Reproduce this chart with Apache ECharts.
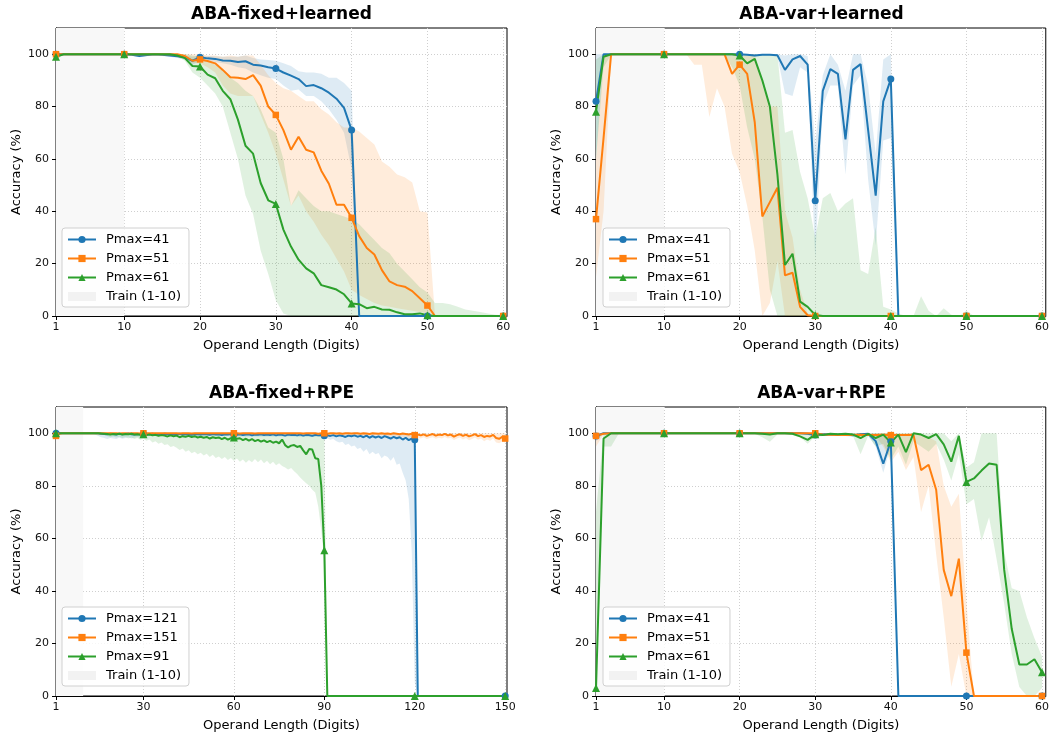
<!DOCTYPE html>
<html>
<head>
<meta charset="utf-8">
<script src="https://cdn.jsdelivr.net/npm/echarts@6/dist/echarts.min.js"></script>
<style>
  html, body { margin: 0; padding: 0; background: #fff; }
  #main { width: 1052px; height: 737px; }
</style>
</head>
<body>
<div id="main"></div>
<script>
// operand lengths (x)
var lens60 = [];
for (var i = 1; i <= 60; i++) lens60.push(i);
var lens150 = [];
for (var j = 1; j <= 150; j++) lens150.push(j);

var ticks60 = [1, 10, 20, 30, 40, 50, 60];
var ticks150 = [1, 30, 60, 90, 120, 150];
var yTicks = [0, 20, 40, 60, 80, 100];

// ---- ABA-fixed+learned ----
var aBlue = [
  100,100,100,100,100,100,100,100,100,100,
  99.8,99.3,99.7,100,99.8,99.5,99.2,98.8,97.5,98.8,
  98.4,98.2,97.6,97.5,97.0,97.3,96.0,95.7,95.0,94.5,
  93.0,91.8,90.5,87.8,88.2,87.0,85.3,83.0,79.5,71.0,
  0,0,0,0,0,0,0,0,0,0,
  0,0,0,0,0,0,0,0,0,0];
var aBlueLo = [
  99.5,99.5,99.5,99.5,99.5,99.5,99.5,99.5,99.5,99.5,
  99.5,98.8,99.2,99.5,99.3,99.0,98.5,98.0,96.0,97.5,
  97.5,97.0,96.5,96.0,95.0,94.5,93.0,92.0,91.0,90.5,
  88.0,86.0,86.5,84.0,84.0,82.0,79.0,75.0,70.0,56.0,
  0,0,0,0,0,0,0,0,0,0,
  0,0,0,0,0,0,0,0,0,0];
var aBlueHi = [
  100,100,100,100,100,100,100,100,100,100,
  100,99.8,100,100,100,100,99.8,99.5,99.0,99.5,
  99.3,99.2,99.0,99.0,99.0,99.5,98.5,98.0,97.8,97.5,
  96.5,95.5,93.5,93.0,93.0,92.5,91.0,91.0,89.0,86.0,
  0,0,0,0,0,0,0,0,0,0,
  0,0,0,0,0,0,0,0,0,0];
var aOrange = [
  100,100,100,100,100,100,100,100,100,100,
  100,100,100,100,100,100,100,99.3,97.5,98.0,
  97.4,96.5,94.0,91.2,91.0,90.5,92.0,88.0,80.0,76.8,
  71.0,63.5,68.5,63.5,62.5,55.5,50.5,42.5,42.5,37.5,
  30.5,26.0,23.5,17.5,13.2,11.8,11.2,9.5,6.8,4.0,
  0,0,0,0,0,0,0,0,0,0];
var aOrangeLo = [
  99.5,99.5,99.5,99.5,99.5,99.5,99.5,99.5,99.5,99.5,
  99.5,99.5,99.5,99.5,99.5,99.5,99.3,98.5,96.5,96.5,
  95.0,93.0,88.0,85.0,84.0,84.0,84.0,77.0,70.0,62.0,
  52.0,42.0,46.0,40.0,36.0,31.0,27.0,22.0,17.0,10.0,
  8.0,6.5,5.0,4.0,3.5,3.0,2.5,2.0,1.5,1.0,
  0,0,0,0,0,0,0,0,0,0];
var aOrangeHi = [
  100,100,100,100,100,100,100,100,100,100,
  100,100,100,100,100,100,100,100,100,100,
  99.5,99.5,99.0,99.5,99.0,99.5,99.5,96.0,92.0,89.0,
  87.0,86.0,84.0,82.0,82.0,79.0,77.0,74.0,72.0,72.0,
  70.5,68.0,65.5,59.0,57.0,54.0,53.0,51.0,40.0,39.5,
  0,0,0,0,0,0,0,0,0,0];
var aGreen = [
  99,100,100,100,100,100,100,100,100,100,
  100,100,100,100,100,100,99.5,98.5,95.5,95.3,
  92.2,90.8,86.0,82.8,75.0,65.0,62.0,50.8,44.2,42.8,
  33.0,26.5,21.5,18.2,16.3,11.8,11.0,10.1,8.3,4.8,
  4.5,3.0,3.5,2.5,2.4,1.4,0.7,0.7,1.0,0.3,
  0,0,0,0,0,0,0,0,0,0];
var aGreenLo = [
  98.0,99.8,99.8,99.8,99.8,99.8,99.8,99.8,99.8,99.8,
  99.8,99.8,99.8,99.8,99.8,99.8,99.0,97.5,93.0,91.0,
  88.0,85.0,80.0,70.0,60.0,46.0,39.0,25.0,16.0,6.0,
  1.0,0,0,0,0,0,0,0,0,0,
  0,0,0,0,0,0,0,0,0,0,
  0,0,0,0,0,0,0,0,0,0];
var aGreenHi = [
  100,100,100,100,100,100,100,100,100,100,
  100,100,100,100,100,100,100,100,99.5,99.0,
  97.5,96.0,94.0,91.0,89.0,86.0,84.0,79.0,72.0,70.0,
  60.0,42.0,48.0,45.0,42.0,40.0,40.0,39.0,38.0,37.0,
  35.0,32.0,29.0,26.0,24.0,20.0,17.0,14.0,11.0,9.0,
  5.0,5.0,4.5,3.5,2.5,2.0,1.5,1.0,0.5,0.3];

// ---- ABA-var+learned ----
var bBlue = [
  82,100,100,100,100,100,100,100,100,100,
  100,100,100,100,100,100,100,100,100,100,
  99.8,99.5,99.8,99.8,99.6,94.0,98.0,99.3,96.0,44.0,
  86.0,94.3,92.5,67.5,94.0,96.2,71.0,46.0,82.0,90.5,
  0,0,0,0,0,0,0,0,0,0,
  0,0,0,0,0,0,0,0,0,0];
var bBlueLo = [
  60,99.5,99.8,99.8,99.8,99.8,99.8,99.8,99.8,99.8,
  99.8,99.8,99.8,99.8,99.8,99.8,99.8,99.8,99.8,99.8,
  99.5,99.0,99.5,99.5,99.0,85.0,84.0,95.0,93.0,22.0,
  80.0,88.0,88.0,54.0,88.0,92.0,52.0,27.0,67.0,68.0,
  0,0,0,0,0,0,0,0,0,0,
  0,0,0,0,0,0,0,0,0,0];
var bBlueHi = [
  100,100,100,100,100,100,100,100,100,100,
  100,100,100,100,100,100,100,100,100,100,
  100,100,100,100,100,99.5,100,100,99.3,66.0,
  92.0,100,96.0,86.0,100,100,88.0,62.0,98.0,100,
  0,0,0,0,0,0,0,0,0,0,
  0,0,0,0,0,0,0,0,0,0];
var bOrange = [
  37,68,100,100,100,100,100,100,100,100,
  100,100,100,100,100,100,100,100,92.5,96.0,
  92.5,74.0,38.0,43.5,49.0,15.5,16.5,3.5,0.3,0,
  0,0,0,0,0,0,0,0,0,0,
  0,0,0,0,0,0,0,0,0,0,
  0,0,0,0,0,0,0,0,0,0];
var bOrangeLo = [
  15,40,99.5,99.8,99.8,99.8,99.8,99.8,99.8,99.8,
  99.8,99.8,99.8,96.0,96.0,76.0,87.0,80.0,62.0,55.0,
  42.0,25.0,0,5.0,21.0,0,0,0,0,0,
  0,0,0,0,0,0,0,0,0,0,
  0,0,0,0,0,0,0,0,0,0,
  0,0,0,0,0,0,0,0,0,0];
var bOrangeHi = [
  60,100,100,100,100,100,100,100,100,100,
  100,100,100,100,100,100,100,100,100,100,
  100,100,88.0,80.0,80.0,40.0,30.0,10.0,1.0,0,
  0,0,0,0,0,0,0,0,0,0,
  0,0,0,0,0,0,0,0,0,0,
  0,0,0,0,0,0,0,0,0,0];
var bGreen = [
  78,99,100,100,100,100,100,100,100,100,
  100,100,100,100,100,100,100,100,100,99.5,
  96.5,98.2,90.0,80.0,54.0,19.5,23.8,5.5,3.5,0.4,
  0,0,0,0,0,0,0,0,0,0,
  0,0,0,0,0,0,0,0,0,0,
  0,0,0,0,0,0,0,0,0,0];
var bGreenLo = [
  60,95,99.8,99.8,99.8,99.8,99.8,99.8,99.8,99.8,
  99.8,99.8,99.8,99.8,99.8,99.8,99.8,99.8,95.0,88.0,
  72.0,60.0,38.0,10.0,0,0,0,0,0,0,
  0,0,0,0,0,0,0,0,0,0,
  0,0,0,0,0,0,0,0,0,0,
  0,0,0,0,0,0,0,0,0,0];
var bGreenHi = [
  98,100,100,100,100,100,100,100,100,100,
  100,100,100,100,100,100,100,100,100,100,
  100,100,100,100,100,70.0,71.0,55.0,45.0,30.0,
  45.0,47.0,40.0,43.0,45.0,17.5,16.0,34.0,3.5,2.5,
  1.0,0,0,7.5,2.0,0,3.0,0.5,0,2.0,
  0,0,0,0,0,0,0,0,0,0];

// ---- ABA-fixed+RPE ----
var cBlue = [
  100,100,100,100,100,100,100,100,100,100,
  100,100,100,100,100,99.8,99.7,99.6,99.8,99.7,
  99.5,99.8,99.6,99.7,99.9,99.6,99.5,99.7,99.6,99.8,
  99.7,99.6,99.8,99.5,99.7,99.6,99.8,99.7,99.5,99.7,
  99.6,99.8,99.5,99.7,99.6,99.4,99.7,99.6,99.5,99.7,
  99.6,99.4,99.7,99.5,99.6,99.3,99.6,99.5,99.7,99.5,
  99.4,99.6,99.3,99.5,99.6,99.2,99.5,99.4,99.6,99.3,
  99.5,99.3,99.6,99.2,99.5,99.4,99.1,99.5,99.3,99.4,
  99.2,99.5,99.1,99.4,99.3,99.0,99.4,99.2,99.3,99.1,
  99.2,99.0,99.3,98.8,99.2,99.0,98.6,99.1,98.9,99.2,
  98.7,99.0,98.5,99.1,98.3,98.9,98.4,98.8,98.2,98.9,
  98.5,98.0,98.6,98.1,98.5,97.6,98.3,97.4,98.0,97.5,
  0,0,0,0,0,0,0,0,0,0,
  0,0,0,0,0,0,0,0,0,0,
  0,0,0,0,0,0,0,0,0,0];
var cBlueLo = [
  99.8,99.8,99.8,99.8,99.8,99.8,99.8,99.8,99.8,99.8,
  99.8,99.8,99.8,99.5,99.0,98.5,98.2,97.8,98.2,98.0,
  97.8,98.3,97.9,98.2,98.5,98.0,98.3,98.6,98.4,98.8,
  99.0,99.0,99.0,99.0,99.0,99.0,99.0,99.0,99.0,99.0,
  99.0,99.0,99.0,99.0,99.0,99.0,99.0,99.0,99.0,99.0,
  99.0,99.0,99.0,99.0,99.0,99.0,99.0,99.0,99.0,99.0,
  98.8,98.8,98.8,98.8,98.8,98.8,98.8,98.8,98.8,98.8,
  98.8,98.8,98.8,98.8,98.8,98.8,98.8,98.8,98.8,98.8,
  98.6,98.6,98.6,98.6,98.6,98.6,98.6,98.6,98.6,98.6,
  98.0,97.5,97.8,97.0,96.5,96.8,95.5,96.0,95.0,95.3,
  94.0,94.5,93.0,94.0,92.0,93.0,92.0,92.5,90.5,91.5,
  91.0,89.5,91.0,88.0,88.5,85.0,82.0,75.0,55.0,5.0,
  0,0,0,0,0,0,0,0,0,0,
  0,0,0,0,0,0,0,0,0,0,
  0,0,0,0,0,0,0,0,0,0];
var cBlueHi = [
  100,100,100,100,100,100,100,100,100,100,
  100,100,100,100,100,100,100,100,100,100,
  100,100,100,100,100,100,100,100,100,100,
  100,100,100,100,100,100,100,100,100,100,
  100,100,100,100,100,100,100,100,100,100,
  100,100,100,100,100,100,100,100,100,100,
  100,100,100,100,100,100,100,100,100,100,
  100,100,100,100,100,100,100,100,100,100,
  100,100,100,100,100,100,100,100,100,100,
  100,100,100,100,100,100,100,100,100,100,
  100,100,100,100,100,100,100,100,100,100,
  100,100,100,100,100,100,100,100,100,100,
  0,0,0,0,0,0,0,0,0,0,
  0,0,0,0,0,0,0,0,0,0,
  0,0,0,0,0,0,0,0,0,0];
var cOrange = [
  99.0,99.8,100,100,100,100,100,100,100,100,
  100,100,100,100,100,100,100,100,100,100,
  100,99.9,100,100,99.9,100,100,100,99.9,100,
  100,100,100,100,100,100,100,100,100,100,
  100,99.9,100,100,100,99.9,100,100,100,100,
  100,100,100,100,100,100,100,100,100,100,
  100,99.9,100,100,100,100,99.9,100,100,100,
  100,100,100,100,100,100,100,100,100,100,
  100,100,99.9,100,100,100,100,99.8,100,100,
  99.8,100,100,99.9,100,99.8,100,100,99.9,100,
  100,99.8,100,99.9,99.7,100,99.9,99.8,100,99.8,
  99.9,99.7,100,99.8,99.6,99.9,99.7,99.5,99.8,99.3,
  99.5,99.2,99.6,99.0,99.4,99.7,99.1,99.5,99.3,99.8,
  99.2,99.5,98.7,99.3,99.6,99.0,99.5,98.8,99.2,99.7,
  98.9,99.3,98.6,99.0,98.8,99.4,98.2,97.9,98.6,98.0];
var cOrangeLo = [
  97.5,99.3,99.5,99.5,99.5,99.5,99.5,99.5,99.5,99.5,
  99.5,99.5,99.5,99.5,99.5,99.5,99.5,99.5,99.5,99.5,
  99.5,99.5,99.5,99.5,99.5,99.5,99.5,99.5,99.5,99.5,
  99.5,99.5,99.5,99.5,99.5,99.5,99.5,99.5,99.5,99.5,
  99.5,99.5,99.5,99.5,99.5,99.5,99.5,99.5,99.5,99.5,
  99.5,99.5,99.5,99.5,99.5,99.5,99.5,99.5,99.5,99.5,
  99.5,99.5,99.5,99.5,99.5,99.5,99.5,99.5,99.5,99.5,
  99.5,99.5,99.5,99.5,99.5,99.5,99.5,99.5,99.5,99.5,
  99.5,99.5,99.5,99.5,99.5,99.5,99.5,99.5,99.5,99.5,
  99.2,99.2,99.2,99.2,99.2,99.2,99.2,99.2,99.2,99.2,
  99.2,99.2,99.2,99.2,99.2,99.2,99.2,99.2,99.2,99.2,
  99.0,98.8,99.0,98.8,98.6,98.8,98.6,98.4,98.6,98.2,
  98.4,98.0,98.5,97.8,98.2,98.5,97.9,98.3,98.0,98.6,
  98.0,98.3,97.4,98.0,98.4,97.6,98.2,97.3,97.8,98.4,
  97.5,98.0,97.0,97.6,97.2,98.0,96.5,96.2,97.0,96.4];
var cOrangeHi = [
  100,100,100,100,100,100,100,100,100,100,
  100,100,100,100,100,100,100,100,100,100,
  100,100,100,100,100,100,100,100,100,100,
  100,100,100,100,100,100,100,100,100,100,
  100,100,100,100,100,100,100,100,100,100,
  100,100,100,100,100,100,100,100,100,100,
  100,100,100,100,100,100,100,100,100,100,
  100,100,100,100,100,100,100,100,100,100,
  100,100,100,100,100,100,100,100,100,100,
  100,100,100,100,100,100,100,100,100,100,
  100,100,100,100,100,100,100,100,100,100,
  100,100,100,100,100,100,100,100,100,100,
  100,100,100,100,100,100,100,100,100,100,
  100,100,100,100,100,100,100,100,100,100,
  100,100,100,100,100,100,100,100,100,100];
var cGreen = [
  100,100,100,100,100,100,100,100,100,100,
  100,100,100,100,100,99.9,99.8,99.7,99.5,99.7,
  99.6,99.8,99.5,99.7,99.6,99.8,99.5,99.6,99.4,99.6,
  99.3,99.5,99.2,99.4,99.0,99.3,99.1,98.8,99.2,98.9,
  99.1,98.5,98.9,98.7,99.0,98.6,98.9,98.4,98.7,98.3,
  98.6,98.0,98.5,98.2,98.4,97.8,98.3,97.6,98.1,98.4,
  97.9,98.1,97.4,97.9,97.2,97.8,97.0,97.5,96.8,97.3,
  96.6,97.1,96.4,96.8,96.2,97.6,95.5,94.6,95.3,95.5,
  94.8,95.2,93.5,92.0,94.0,93.8,90.5,90.2,80.0,55.5,
  0,0,0,0,0,0,0,0,0,0,
  0,0,0,0,0,0,0,0,0,0,
  0,0,0,0,0,0,0,0,0,0,
  0,0,0,0,0,0,0,0,0,0,
  0,0,0,0,0,0,0,0,0,0,
  0,0,0,0,0,0,0,0,0,0];
var cGreenLo = [
  99.7,99.7,99.7,99.7,99.7,99.7,99.7,99.7,99.7,99.7,
  99.7,99.7,99.7,99.7,99.7,99.5,99.2,99.0,98.5,98.8,
  98.4,98.7,98.2,98.6,98.0,98.4,97.8,98.2,97.5,98.0,
  97.2,97.6,96.5,97.0,96.0,96.5,95.5,95.8,94.8,95.2,
  94.5,93.6,94.2,93.0,93.5,92.4,93.0,92.0,92.6,91.5,
  92.2,91.0,91.8,90.6,91.2,90.2,91.0,89.8,90.6,89.5,
  90.4,89.2,90.0,88.8,89.8,89.0,90.2,89.0,90.0,88.6,
  89.5,88.2,89.2,87.8,88.6,87.5,87.0,86.2,86.8,85.5,
  84.5,83.2,82.0,81.0,80.0,78.5,77.5,72.0,63.0,52.0,
  0,0,0,0,0,0,0,0,0,0,
  0,0,0,0,0,0,0,0,0,0,
  0,0,0,0,0,0,0,0,0,0,
  0,0,0,0,0,0,0,0,0,0,
  0,0,0,0,0,0,0,0,0,0,
  0,0,0,0,0,0,0,0,0,0];
var cGreenHi = [
  100,100,100,100,100,100,100,100,100,100,
  100,100,100,100,100,100,100,100,100,100,
  100,100,100,100,100,100,100,100,100,100,
  100,100,100,100,100,100,100,100,100,100,
  100,100,100,100,100,100,100,100,100,100,
  100,100,100,100,100,100,100,100,100,100,
  100,100,100,100,100,100,100,100,100,100,
  100,100,100,100,100,100,100,100,100,100,
  100,100,100,100,100,100,100,100,100,100,
  0,0,0,0,0,0,0,0,0,0,
  0,0,0,0,0,0,0,0,0,0,
  0,0,0,0,0,0,0,0,0,0,
  0,0,0,0,0,0,0,0,0,0,
  0,0,0,0,0,0,0,0,0,0,
  0,0,0,0,0,0,0,0,0,0];

// ---- ABA-var+RPE ----
var dBlue = [
  99,100,100,100,100,100,100,100,100,100,
  100,100,100,100,100,100,100,100,100,100,
  100,100,100,100,100,100,100,100,99.8,99.3,
  99.6,99.5,99.4,99.6,99.2,99.6,99.8,97.0,88.4,97.0,
  0,0,0,0,0,0,0,0,0,0,
  0,0,0,0,0,0,0,0,0,0];
var dBlueLo = [
  97,99.8,99.8,99.8,99.8,99.8,99.8,99.8,99.8,99.8,
  99.8,99.8,99.8,99.8,99.8,99.8,99.8,99.8,99.8,99.8,
  99.8,99.8,99.8,99.8,99.8,99.8,99.8,99.8,99.3,98.8,
  99.0,99.0,99.0,99.0,98.6,99.0,99.2,95.0,85.0,95.0,
  0,0,0,0,0,0,0,0,0,0,
  0,0,0,0,0,0,0,0,0,0];
var dBlueHi = [
  100,100,100,100,100,100,100,100,100,100,
  100,100,100,100,100,100,100,100,100,100,
  100,100,100,100,100,100,100,100,100,100,
  100,100,100,100,100,100,100,100,100,100,
  0,0,0,0,0,0,0,0,0,0,
  0,0,0,0,0,0,0,0,0,0];
var dOrange = [
  99,99.8,100,100,100,100,100,100,100,100,
  100,100,100,100,100,100,100,100,100,100,
  100,100,100,100,100,100,100,100,100,100,
  99.5,99.4,99.3,99.3,99.3,99.4,99.3,99.3,99.4,99.3,
  99.3,99.3,99.4,86.0,88.0,78.5,48.0,38.0,52.3,16.5,
  0,0,0,0,0,0,0,0,0,0];
var dOrangeLo = [
  95,99.5,99.8,99.8,99.8,99.8,99.8,99.8,99.8,99.8,
  99.8,99.8,99.8,99.8,99.8,99.8,99.8,99.8,99.8,99.8,
  99.8,99.8,99.8,99.8,99.8,99.8,99.8,99.8,99.5,99.5,
  99.0,99.0,99.0,99.0,99.0,99.0,99.0,99.0,95.0,89.0,
  93.0,86.0,91.0,70.0,80.0,54.0,30.0,3.5,16.0,0,
  0,0,0,0,0,0,0,0,0,0];
var dOrangeHi = [
  100,100,100,100,100,100,100,100,100,100,
  100,100,100,100,100,100,100,100,100,100,
  100,100,100,100,100,100,100,100,100,100,
  100,100,100,100,100,100,100,100,100,100,
  100,100,100,99.8,98.5,97.0,80.0,72.0,77.0,36.0,
  0,0,0,0,0,0,0,0,0,0];
var dGreen = [
  3,98,100,100,100,100,100,100,100,100,
  100,100,100,100,100,100,100,100,100,100,
  100,100,99.8,99.5,100,100,99.8,98.8,97.5,99.6,
  99.3,99.8,99.6,99.8,99.5,98.2,99.8,98.2,99.5,96.5,
  99.5,92.8,100,99.5,98.2,99.7,95.8,89.2,99.0,81.5,
  82.8,85.8,88.5,88.0,48.0,25.5,12.0,12.0,14.0,9.0];
var dGreenLo = [
  0,95,95,99.8,99.8,99.8,99.8,99.8,99.8,99.8,
  99.8,99.8,99.8,99.8,99.8,99.8,99.8,99.8,99.8,99.8,
  99.8,99.8,98.5,96.8,99.5,99.5,99.3,98.5,96.0,98.8,
  99.0,99.0,99.0,99.0,99.0,92.0,99.0,95.0,96.0,90.0,
  95.0,88.0,97.0,95.0,93.0,96.0,90.0,82.0,92.0,73.0,
  75.0,59.0,68.0,52.0,35.0,16.0,3.4,0,0,3.0];
var dGreenHi = [
  70,100,100,100,100,100,100,100,100,100,
  100,100,100,100,100,100,100,100,100,100,
  100,100,100,100,100,100,100,100,100,100,
  100,100,100,100,100,100,100,100,100,100,
  100,100,100,100,100,100,100,97.0,100,87.0,
  89.0,100,100,100,55.0,41.0,40.0,30.0,22.0,15.0];

var BLUE = '#1f77b4', ORANGE = '#ff7f0e', GREEN = '#2ca02c';
var BAND = {};
BAND[BLUE] = 'rgba(31,119,180,0.15)';
BAND[ORANGE] = 'rgba(255,127,14,0.15)';
BAND[GREEN] = 'rgba(44,160,44,0.15)';
var TRAIN = '#f8f8f8';
var FONT = 'DejaVu Sans';

var panels = [
  { title: 'ABA-fixed+learned', left: 56, top: 28, height: 288, xs: lens60, xMax: 60.5, ticks: ticks60,
    legendPos: [62, 228],
    lines: [
      { name: 'Pmax=41', color: BLUE, symbol: 'circle', mean: aBlue, lo: aBlueLo, hi: aBlueHi },
      { name: 'Pmax=51', color: ORANGE, symbol: 'rect', mean: aOrange, lo: aOrangeLo, hi: aOrangeHi },
      { name: 'Pmax=61', color: GREEN, symbol: 'triangle', mean: aGreen, lo: aGreenLo, hi: aGreenHi }
    ] },
  { title: 'ABA-var+learned', left: 596, top: 28, height: 288, xs: lens60, xMax: 60.5, ticks: ticks60,
    legendPos: [603, 228],
    lines: [
      { name: 'Pmax=41', color: BLUE, symbol: 'circle', mean: bBlue, lo: bBlueLo, hi: bBlueHi },
      { name: 'Pmax=51', color: ORANGE, symbol: 'rect', mean: bOrange, lo: bOrangeLo, hi: bOrangeHi },
      { name: 'Pmax=61', color: GREEN, symbol: 'triangle', mean: bGreen, lo: bGreenLo, hi: bGreenHi }
    ] },
  { title: 'ABA-fixed+RPE', left: 56, top: 407, height: 289, xs: lens150, xMax: 150.6, ticks: ticks150,
    legendPos: [62, 607],
    lines: [
      { name: 'Pmax=121', color: BLUE, symbol: 'circle', mean: cBlue, lo: cBlueLo, hi: cBlueHi },
      { name: 'Pmax=151', color: ORANGE, symbol: 'rect', mean: cOrange, lo: cOrangeLo, hi: cOrangeHi },
      { name: 'Pmax=91', color: GREEN, symbol: 'triangle', mean: cGreen, lo: cGreenLo, hi: cGreenHi }
    ] },
  { title: 'ABA-var+RPE', left: 596, top: 407, height: 289, xs: lens60, xMax: 60.5, ticks: ticks60,
    legendPos: [603, 607],
    lines: [
      { name: 'Pmax=41', color: BLUE, symbol: 'circle', mean: dBlue, lo: dBlueLo, hi: dBlueHi },
      { name: 'Pmax=51', color: ORANGE, symbol: 'rect', mean: dOrange, lo: dOrangeLo, hi: dOrangeHi },
      { name: 'Pmax=61', color: GREEN, symbol: 'triangle', mean: dGreen, lo: dGreenLo, hi: dGreenHi }
    ] }
];

var SYMSIZE = { circle: 7, rect: 6.5, triangle: 8 };

function bandRender(xs, lo, hi, fill) {
  return function (params, api) {
    var up = [], dn = [];
    for (var k = 0; k < xs.length; k++) {
      up.push(api.coord([xs[k], hi[k]]));
      dn.push(api.coord([xs[k], lo[k]]));
    }
    return { type: 'polygon', shape: { points: up.concat(dn.reverse()) }, style: { fill: fill } };
  };
}

function trainRender(params, api) {
  var p1 = api.coord([1, 110]);
  var p2 = api.coord([10, 0]);
  return { type: 'rect', shape: { x: p1[0], y: p1[1], width: p2[0] - p1[0], height: p2[1] - p1[1] },
    style: { fill: TRAIN } };
}

var gridLine = { show: true, lineStyle: { type: [1, 2], color: '#cfcfcf', width: 1 } };

var option = {
  animation: false,
  backgroundColor: '#fff',
  textStyle: { fontFamily: FONT },
  title: [], grid: [], xAxis: [], yAxis: [], legend: [], series: []
};

panels.forEach(function (p, gi) {
  var w = 451;
  option.title.push({
    text: p.title, left: p.left + w / 2, top: p.top - 22, textAlign: 'center', padding: 0,
    textStyle: { fontFamily: FONT, fontSize: 17, fontWeight: 'bold', color: '#000' }
  });
  option.grid.push({ left: p.left, top: p.top, width: w, height: p.height, show: true,
    borderColor: '#000', borderWidth: 1, backgroundColor: 'transparent' });
  option.xAxis.push({
    type: 'value', gridIndex: gi, min: 1, max: p.xMax,
    name: 'Operand Length (Digits)', nameLocation: 'middle', nameGap: 23,
    nameTextStyle: { fontFamily: FONT, fontSize: 13, color: '#000' },
    axisLine: { show: true, onZero: false, lineStyle: { color: '#000', width: 1 } },
    axisTick: { show: true, length: 4, customValues: p.ticks, lineStyle: { color: '#000' } },
    axisLabel: { customValues: p.ticks, fontFamily: FONT, fontSize: 11, color: '#111', margin: 6 },
    splitLine: gridLine
  });
  option.yAxis.push({
    type: 'value', gridIndex: gi, min: 0, max: 110,
    name: 'Accuracy (%)', nameLocation: 'middle', nameGap: 33, nameRotate: 90,
    nameTextStyle: { fontFamily: FONT, fontSize: 13, color: '#000' },
    axisLine: { show: true, lineStyle: { color: '#000', width: 1 } },
    axisTick: { show: true, length: 4, customValues: yTicks, lineStyle: { color: '#000' } },
    axisLabel: { customValues: yTicks, fontFamily: FONT, fontSize: 11, color: '#111', margin: 7 },
    splitLine: gridLine
  });

  option.series.push({
    type: 'custom', name: 'Train (1-10)', xAxisIndex: gi, yAxisIndex: gi,
    data: [[1, 0]], renderItem: trainRender, silent: true, z: 1,
    itemStyle: { color: TRAIN }
  });

  p.lines.forEach(function (ln) {
    var marks = p.ticks;
    option.series.push({
      type: 'line', name: ln.name, xAxisIndex: gi, yAxisIndex: gi,
      data: p.xs.map(function (x, k) { return [x, ln.mean[k]]; }),
      symbol: ln.symbol,
      symbolSize: function (v) { return marks.indexOf(v[0]) >= 0 ? SYMSIZE[ln.symbol] : 0; },
      showAllSymbol: true,
      lineStyle: { color: ln.color, width: 2 },
      itemStyle: { color: ln.color },
      emphasis: { disabled: true },
      z: 2
    });
    option.series.push({
      type: 'custom', xAxisIndex: gi, yAxisIndex: gi, silent: true, clip: true,
      data: [[1, 0]], renderItem: bandRender(p.xs, ln.lo, ln.hi, BAND[ln.color]), z: 2
    });
  });

  option.legend.push({
    orient: 'vertical', left: p.legendPos[0], top: p.legendPos[1],
    itemWidth: 28, itemHeight: 9, itemGap: 6,
    padding: [5, 8, 4, 5],
    backgroundColor: 'rgba(255,255,255,0.8)', borderColor: '#d0d0d0', borderWidth: 1, borderRadius: 3,
    selectedMode: false,
    textStyle: { fontFamily: FONT, fontSize: 13, color: '#000', padding: [0, 0, 0, 5] },
    data: p.lines.map(function (ln) { return { name: ln.name }; })
      .concat([{ name: 'Train (1-10)', icon: 'rect', itemStyle: { color: '#f2f2f2' } }])
  });
});

var chart = echarts.init(document.getElementById('main'), null, { renderer: 'canvas' });
chart.setOption(option);
</script>
</body>
</html>
